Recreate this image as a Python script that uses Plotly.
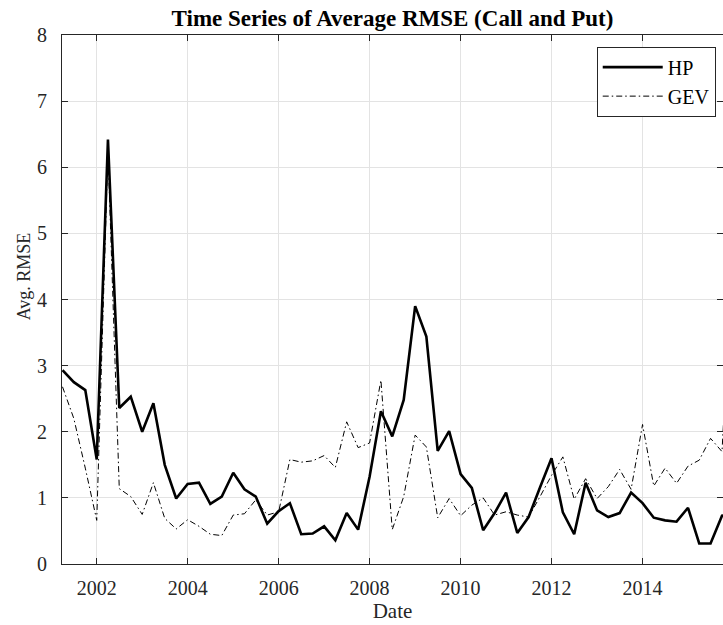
import pandas as pd
import plotly.graph_objects as go

# Quarterly observation dates (Q2 2001 onward)
dates = pd.date_range("2001-04-01", periods=60, freq="QS")

# Average RMSE across calls and puts, per quarter
hp_rmse = [
    2.93, 2.75, 2.63, 1.58, 6.42, 2.36, 2.53, 2.00, 2.43, 1.50,
    0.99, 1.21, 1.23, 0.91, 1.02, 1.38, 1.13, 1.02, 0.61, 0.80,
    0.92, 0.45, 0.46, 0.57, 0.36, 0.77, 0.52, 1.32, 2.31, 1.93,
    2.48, 3.90, 3.44, 1.71, 2.01, 1.36, 1.15, 0.51, 0.77, 1.08,
    0.47, 0.71, 1.16, 1.60, 0.78, 0.45, 1.23, 0.81, 0.71, 0.77,
    1.08, 0.92, 0.70, 0.66, 0.64, 0.85, 0.31, 0.31, 0.73, 0.75,
]
gev_rmse = [
    2.68, 2.20, 1.45, 0.66, 6.25, 1.14, 1.02, 0.75, 1.23, 0.69,
    0.53, 0.67, 0.57, 0.45, 0.43, 0.74, 0.76, 0.97, 0.74, 0.79,
    1.58, 1.54, 1.56, 1.64, 1.46, 2.15, 1.76, 1.83, 2.78, 0.52,
    1.02, 1.95, 1.77, 0.70, 0.99, 0.73, 0.89, 1.00, 0.74, 0.79,
    0.74, 0.71, 1.02, 1.34, 1.62, 0.98, 1.29, 0.99, 1.17, 1.43,
    1.13, 2.11, 1.18, 1.45, 1.22, 1.48, 1.57, 1.90, 1.70, 5.00,
]

x_range = ["2001-03-28", "2015-10-09"]
y_ticks = list(range(0, 9))

FONT = "Liberation Serif, Times New Roman, serif"
AXIS_COLOR = "#262626"
GRID_COLOR = "#e3e3e3"

fig = go.Figure()
fig.add_trace(go.Scatter(
    x=dates, y=hp_rmse, name="HP", mode="lines",
    line=dict(color="black", width=2.6),
))
fig.add_trace(go.Scatter(
    x=dates, y=gev_rmse, name="GEV", mode="lines",
    line=dict(color="black", width=1, dash="6px,3px,1.5px,3px"),
))

fig.update_layout(
    width=723, height=625,
    margin=dict(l=62, r=0, t=35, b=61),
    paper_bgcolor="white", plot_bgcolor="white",
    font=dict(family=FONT, color=AXIS_COLOR, size=20),
    title=dict(
        text="<b>Time Series of Average RMSE (Call and Put)</b>",
        font=dict(family=FONT, size=23, color="black"),
        x=0.5, xref="paper", xanchor="center",
        y=1 - 18 / 625, yref="container", yanchor="middle",
    ),
    legend=dict(
        x=0.989, y=0.978, xanchor="right", yanchor="top",
        bgcolor="white", bordercolor=AXIS_COLOR, borderwidth=1,
        font=dict(family=FONT, size=20, color="black"),
        itemwidth=60,
    ),
    showlegend=True,
)

fig.update_xaxes(
    type="date", range=x_range,
    tick0="2002-01-01", dtick="M24", tickformat="%Y",
    ticks="inside", ticklen=6, tickcolor=AXIS_COLOR,
    showline=True, linecolor=AXIS_COLOR, linewidth=1, mirror="ticks",
    showgrid=True, gridcolor=GRID_COLOR, gridwidth=1,
    zeroline=False,
    tickfont=dict(family=FONT, size=20, color=AXIS_COLOR),
    ticklabelstandoff=6,
    title=dict(text="Date", font=dict(family=FONT, size=21, color=AXIS_COLOR), standoff=3),
)
fig.update_yaxes(
    range=[0, 8], tickvals=y_ticks,
    ticks="inside", ticklen=6, tickcolor=AXIS_COLOR,
    showline=True, linecolor=AXIS_COLOR, linewidth=1, mirror="ticks",
    showgrid=True, gridcolor=GRID_COLOR, gridwidth=1,
    zeroline=False,
    tickfont=dict(family=FONT, size=20, color=AXIS_COLOR),
    ticklabelstandoff=10,
)

fig.add_annotation(
    text="Avg. RMSE", textangle=-90,
    xref="paper", yref="paper", x=-0.057, y=(564 - 276) / 529,
    xanchor="center", yanchor="middle", showarrow=False,
    font=dict(family=FONT, size=18, color=AXIS_COLOR),
)

fig.write_html("out.html")
